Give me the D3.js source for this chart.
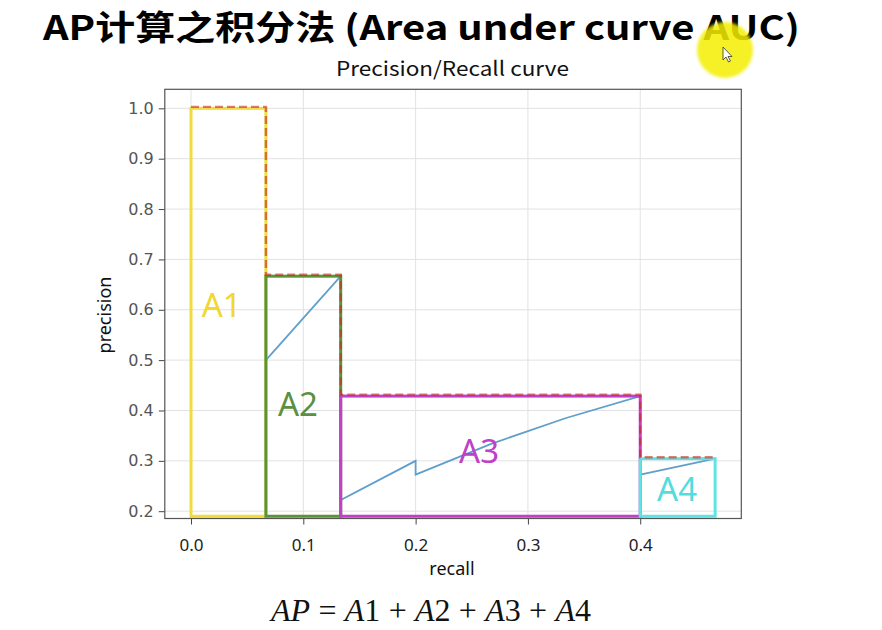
<!DOCTYPE html>
<html><head><meta charset="utf-8">
<script src="https://cdn.jsdelivr.net/npm/d3@7"></script>
<style>html,body{margin:0;padding:0;background:#fff;}svg{display:block;}</style>
</head><body>
<svg id="c" width="882" height="630"></svg>
<script>
// ---- data ----
const titleText = "AP计算之积分法 (Area under curve AUC)";
const subtitleText = "Precision/Recall curve";
const xTicks = [0.0, 0.1, 0.2, 0.3, 0.4];
const xTickLabels = ["0.0", "0.1", "0.2", "0.3", "0.4"];
const yTicks = [0.2, 0.3, 0.4, 0.5, 0.6, 0.7, 0.8, 0.9, 1.0];
const yTickLabels = ["0.2", "0.3", "0.4", "0.5", "0.6", "0.7", "0.8", "0.9", "1.0"];
// PR curve
const curveRecall = [0.0667, 0.0667, 0.1333, 0.1333, 0.2, 0.2, 0.2667, 0.3333, 0.4, 0.4, 0.4667];
const curvePrecision = [1.0, 0.5, 0.6667, 0.2222, 0.3, 0.2727, 0.3333, 0.3846, 0.4286, 0.2727, 0.3043];
// interpolated areas
const areaNames = ["A1", "A2", "A3", "A4"];
const areaRecallStart = [0.0, 0.0667, 0.1333, 0.4];
const areaRecallEnd = [0.0667, 0.1333, 0.4, 0.4667];
const areaPrecision = [1.0, 0.6667, 0.4286, 0.3043];
const areaBase = 0.19;
// label anchors (data coords)
const labelRecall = [0.0273, 0.0953, 0.2565, 0.4328];
const labelPrecision = [0.586, 0.39, 0.2965, 0.221];

// ---- styles ----
const areaColors = ["#f0dc3c", "#5a9436", "#c23fc6", "#5ee4e4"];
const labelColors = ["#f0d830", "#5a9040", "#c040c8", "#52dcdc"];

const svg = d3.select("#c");
const L = 164.8, R = 741.3, T = 89.3, B = 518.5;
const x = d3.scaleLinear().domain([-0.02333, 0.49]).range([L, R]);
const y = d3.scaleLinear().domain([0.1855, 1.0378]).range([B, T]);

function fitWidth(sel, target, cx, cy) {
  const w = sel.node().getComputedTextLength();
  const s = target / w;
  sel.attr("transform", `translate(${cx},${cy}) scale(${s},1) translate(${-cx},${-cy})`);
}

// title
const title = svg.append("text").attr("x", 43).attr("y", 40)
  .attr("font-family", "'Noto Sans CJK SC', 'Noto Sans', sans-serif")
  .attr("font-weight", "bold").attr("font-size", 34).attr("fill", "#000").text(titleText);
fitWidth(title, 757, 43, 40);

const sub = svg.append("text").attr("x", 336).attr("y", 76)
  .attr("font-family", "'Noto Sans CJK SC', 'Noto Sans', sans-serif")
  .attr("font-size", 20).attr("fill", "#111").text(subtitleText);
fitWidth(sub, 233, 336, 76);

// grid
const g = svg.append("g");
g.selectAll("line.gx").data(xTicks).join("line").attr("class", "gx")
  .attr("x1", d => x(d)).attr("x2", d => x(d)).attr("y1", T).attr("y2", B)
  .attr("stroke", "#e2e2e2").attr("stroke-width", 1);
g.selectAll("line.gy").data(yTicks).join("line").attr("class", "gy")
  .attr("x1", L).attr("x2", R).attr("y1", d => y(d)).attr("y2", d => y(d))
  .attr("stroke", "#e2e2e2").attr("stroke-width", 1);

// axes
const xAxis = d3.axisBottom(x).tickValues(xTicks).tickFormat((d, i) => xTickLabels[i]).tickSize(6).tickPadding(14);
const yAxis = d3.axisLeft(y).tickValues(yTicks).tickFormat((d, i) => yTickLabels[i]).tickSize(6).tickPadding(5);
const gx = svg.append("g").attr("transform", `translate(0,${B})`).call(xAxis);
gx.select(".domain").remove();
gx.selectAll("line").attr("stroke", "#444");
gx.selectAll("text").attr("font-family", "'Noto Sans', sans-serif").attr("font-size", 17).attr("fill", "#222");
const gy = svg.append("g").attr("transform", `translate(${L},0)`).call(yAxis);
gy.select(".domain").remove();
gy.selectAll("line").attr("stroke", "#444");
gy.selectAll("text").attr("font-family", "'DejaVu Sans', sans-serif").attr("font-size", 16).attr("fill", "#555");

// PR curve (under rectangles)
const pts = curveRecall.map((r, i) => [r, curvePrecision[i]]);
svg.append("path").attr("d", d3.line().x(d => x(d[0])).y(d => y(d[1]))(pts))
  .attr("fill", "none").attr("stroke", "#5f9fcc").attr("stroke-width", 1.8);

// rectangles
areaNames.forEach((n, i) => {
  svg.append("rect")
    .attr("x", x(areaRecallStart[i])).attr("y", y(areaPrecision[i]))
    .attr("width", x(areaRecallEnd[i]) - x(areaRecallStart[i]))
    .attr("height", y(areaBase) - y(areaPrecision[i]))
    .attr("fill", "none").attr("stroke", areaColors[i]).attr("stroke-width", 3);
});

// interpolated envelope (dashed)
const env = [];
areaNames.forEach((n, i) => {
  env.push([areaRecallStart[i], areaPrecision[i]]);
  env.push([areaRecallEnd[i], areaPrecision[i]]);
});
svg.append("path").attr("d", d3.line().x(d => x(d[0])).y(d => y(d[1]) - 1.5)(env))
  .attr("fill", "none").attr("stroke", "#c8281e").attr("stroke-opacity", 0.6)
  .attr("stroke-width", 2.4).attr("stroke-dasharray", "8,4");

// area labels
areaNames.forEach((n, i) => {
  svg.append("text").attr("x", x(labelRecall[i])).attr("y", y(labelPrecision[i]))
    .attr("text-anchor", "middle").attr("font-family", "'Noto Sans', sans-serif")
    .attr("font-size", 33).attr("fill", labelColors[i]).text(n);
});

// frame
svg.append("rect").attr("x", L).attr("y", T).attr("width", R - L).attr("height", B - T)
  .attr("fill", "none").attr("stroke", "#555").attr("stroke-width", 1.2);

// axis titles
svg.append("text").attr("x", 452).attr("y", 575).attr("text-anchor", "middle")
  .attr("font-family", "'Noto Sans', sans-serif").attr("font-size", 18).attr("fill", "#111").text("recall");
svg.append("text").attr("transform", "translate(111,315) rotate(-90)").attr("text-anchor", "middle")
  .attr("font-family", "'Noto Sans', sans-serif").attr("font-size", 18).attr("fill", "#111").text("precision");

// formula
const f = svg.append("text").attr("x", 271).attr("y", 621)
  .attr("font-family", "'Liberation Serif', 'DejaVu Serif', serif").attr("font-size", 32).attr("fill", "#111");
const parts = [["AP", true, false], ["=", false, true], ["A", true, false], ["1", false, false], ["+", false, true],
  ["A", true, false], ["2", false, false], ["+", false, true], ["A", true, false], ["3", false, false],
  ["+", false, true], ["A", true, false], ["4", false, false]];
const spans = parts.map(p => f.append("tspan").attr("font-style", p[1] ? "italic" : "normal").text(p[0]));
const natural = f.node().getComputedTextLength();
const gap = (320 - natural) / 8;
parts.forEach((p, i) => {
  if (p[2]) { spans[i].attr("dx", gap); spans[i + 1].attr("dx", gap); }
});

// cursor highlight
const defs = svg.append("defs");
defs.append("filter").attr("id", "blur").append("feGaussianBlur").attr("stdDeviation", 1.5);
svg.append("circle").attr("cx", 725).attr("cy", 50).attr("r", 28)
  .attr("fill", "#f3ee00").attr("fill-opacity", 0.85).attr("filter", "url(#blur)");
svg.append("path").attr("transform", "translate(723,47)")
  .attr("d", "M0,0 L0,13 L3,10 L5.5,15 L7.5,14 L5,9.5 L9,9.5 Z")
  .attr("fill", "#fff").attr("stroke", "#333").attr("stroke-width", 0.8);
</script>
</body></html>
